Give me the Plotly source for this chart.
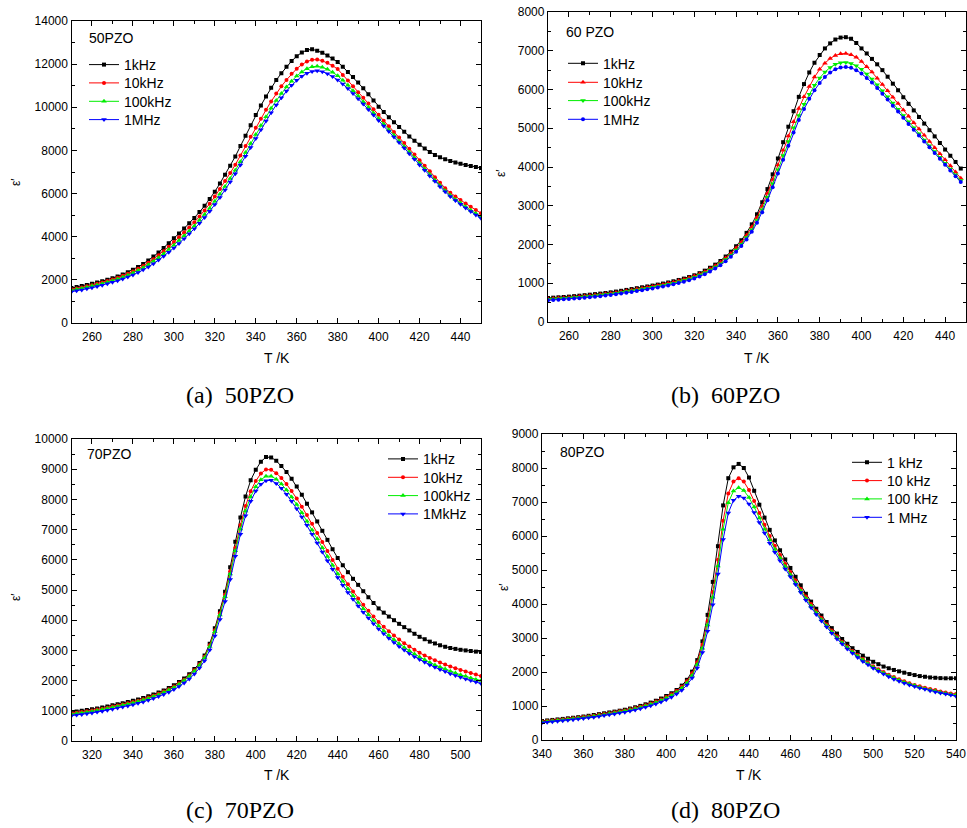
import plotly.graph_objects as go

W, H = 967, 828

# ---------------- data ----------------
T_A = [250,252.5,255,257.5,260,262.5,265,267.5,270,272.5,275,277.5,280,282.5,285,287.5,290,292.5,295,297.5,
       300,302.5,305,307.5,310,312.5,315,317.5,320,322.5,325,327.5,330,332.5,335,337.5,340,342.5,345,347.5,
       350,352.5,355,357.5,360,362.5,365,367.5,370,372.5,375,377.5,380,382.5,385,387.5,390,392.5,395,397.5,
       400,402.5,405,407.5,410,412.5,415,417.5,420,422.5,425,427.5,430,432.5,435,437.5,440,442.5,445,447.5,450]
A_1k = [1620,1665,1715,1765,1820,1880,1940,2005,2080,2160,2250,2355,2470,2600,2740,2900,3080,3270,3480,3700,
        3930,4150,4380,4620,4870,5140,5430,5750,6090,6470,6870,7290,7720,8200,8680,9170,9640,10080,10500,10900,
        11260,11580,11880,12140,12370,12540,12650,12690,12620,12530,12400,12260,12100,11880,11640,11400,11150,10880,10600,10310,
        10030,9780,9540,9310,9090,8870,8650,8450,8260,8090,7930,7790,7680,7590,7510,7440,7380,7330,7280,7230,7190]
A_10k = [1560,1600,1650,1700,1755,1815,1875,1945,2020,2100,2185,2285,2390,2510,2640,2795,2960,3140,3330,3540,
         3750,3970,4190,4430,4670,4940,5220,5530,5860,6210,6580,6950,7340,7770,8200,8630,9050,9470,9880,10270,
         10640,10970,11270,11550,11790,11980,12120,12200,12210,12160,12060,11930,11770,11500,11240,10970,10700,10440,10180,9910,
         9650,9380,9120,8860,8600,8340,8080,7810,7550,7290,7030,6760,6500,6250,6040,5860,5700,5540,5390,5240,5090]
A_100k = [1520,1560,1605,1655,1710,1765,1825,1890,1960,2035,2120,2215,2320,2435,2560,2705,2860,3030,3210,3410,
          3610,3820,4040,4270,4500,4760,5030,5320,5640,5980,6330,6700,7080,7480,7900,8320,8740,9150,9560,9950,
          10310,10640,10940,11210,11450,11640,11790,11880,11900,11860,11760,11620,11460,11250,11020,10770,10520,10260,10000,9740,
          9480,9220,8960,8700,8440,8180,7920,7660,7400,7140,6880,6620,6370,6130,5920,5730,5560,5390,5230,5080,4930]
A_1M = [1450,1490,1535,1585,1635,1690,1750,1815,1885,1960,2040,2130,2230,2340,2465,2600,2750,2915,3090,3280,
        3480,3690,3910,4140,4370,4620,4890,5180,5490,5820,6170,6540,6920,7320,7730,8140,8550,8960,9360,9750,
        10110,10440,10750,11020,11250,11440,11580,11660,11690,11650,11560,11430,11270,11080,10870,10640,10400,10150,9900,9640,
        9390,9130,8880,8620,8370,8110,7850,7590,7330,7080,6820,6570,6320,6080,5870,5680,5500,5330,5170,5010,4860]

T_B = [250,252.5,255,257.5,260,262.5,265,267.5,270,272.5,275,277.5,280,282.5,285,287.5,290,292.5,295,297.5,
       300,302.5,305,307.5,310,312.5,315,317.5,320,322.5,325,327.5,330,332.5,335,337.5,340,342.5,345,347.5,
       350,352.5,355,357.5,360,362.5,365,367.5,370,372.5,375,377.5,380,382.5,385,387.5,390,392.5,395,397.5,
       400,402.5,405,407.5,410,412.5,415,417.5,420,422.5,425,427.5,430,432.5,435,437.5,440,442.5,445,447.5]
B_1k = [620,628,637,646,655,667,679,692,705,719,733,749,765,785,805,828,850,872,895,917,
        940,965,992,1020,1050,1085,1120,1160,1205,1260,1325,1400,1480,1575,1690,1815,1955,2110,2300,2520,
        2780,3090,3430,3810,4220,4640,5040,5440,5810,6140,6440,6690,6890,7060,7190,7290,7340,7350,7310,7200,
        7060,6930,6790,6650,6500,6330,6150,5980,5800,5630,5460,5290,5120,4950,4790,4620,4450,4290,4130,3960]
B_10k = [600,608,617,626,635,646,658,671,684,698,712,728,744,763,783,805,828,850,873,895,
         918,943,970,998,1028,1062,1098,1140,1185,1238,1300,1372,1450,1540,1650,1770,1910,2060,2240,2450,
         2700,2990,3320,3680,4050,4430,4800,5170,5510,5810,6080,6320,6520,6680,6800,6880,6920,6930,6900,6830,
         6720,6590,6450,6290,6130,5970,5800,5640,5470,5310,5140,4980,4820,4660,4500,4340,4190,4030,3870,3710]
B_100k = [585,593,601,610,619,630,641,653,666,680,694,709,725,743,763,784,806,828,850,872,
          895,919,945,973,1003,1036,1072,1112,1158,1210,1270,1340,1418,1505,1610,1725,1860,2005,2180,2380,
          2620,2900,3220,3570,3930,4300,4660,5010,5330,5620,5880,6110,6300,6450,6570,6650,6690,6700,6670,6610,
          6520,6400,6270,6120,5970,5810,5650,5490,5330,5170,5010,4860,4700,4550,4400,4250,4100,3950,3800,3650]
B_1M = [560,568,576,585,594,604,615,627,640,653,667,682,698,716,735,756,777,799,821,843,
        866,890,916,944,973,1005,1040,1080,1125,1176,1235,1303,1380,1466,1568,1682,1815,1960,2130,2330,
        2560,2830,3140,3480,3830,4190,4550,4890,5210,5500,5760,5980,6170,6320,6440,6520,6570,6580,6560,6500,
        6410,6300,6180,6040,5890,5740,5580,5430,5270,5110,4960,4810,4660,4510,4360,4210,4060,3910,3760,3610]

T_C = [310,312.5,315,317.5,320,322.5,325,327.5,330,332.5,335,337.5,340,342.5,345,347.5,350,352.5,355,357.5,
       360,362.5,365,367.5,370,372.5,375,377.5,380,382.5,385,387.5,390,392.5,395,397.5,400,402.5,405,407.5,
       410,412.5,415,417.5,420,422.5,425,427.5,430,432.5,435,437.5,440,442.5,445,447.5,450,452.5,455,457.5,
       460,462.5,465,467.5,470,472.5,475,477.5,480,482.5,485,487.5,490,492.5,495,497.5,500,502.5,505,507.5,510]
C_1k = [960,980,1000,1025,1050,1080,1110,1145,1180,1215,1250,1290,1330,1375,1425,1480,1540,1605,1675,1755,
        1845,1950,2070,2210,2380,2580,2830,3220,3730,4300,4940,5750,6600,7400,8100,8630,8980,9250,9400,9390,
        9280,9110,8910,8680,8430,8150,7860,7570,7270,6960,6660,6350,6060,5820,5590,5370,5170,4960,4760,4570,
        4390,4250,4120,4000,3880,3770,3660,3550,3450,3370,3290,3230,3170,3120,3080,3050,3020,3000,2980,2960,2950]
C_10k = [920,940,960,985,1010,1040,1070,1105,1140,1175,1210,1250,1290,1335,1385,1440,1500,1565,1635,1715,
         1805,1910,2030,2170,2340,2540,2790,3170,3670,4230,4850,5620,6400,7150,7780,8270,8610,8860,8990,8980,
         8870,8710,8510,8280,8030,7760,7480,7190,6890,6590,6290,5990,5700,5440,5190,4950,4720,4510,4310,4120,
         3940,3780,3630,3490,3360,3240,3130,3020,2920,2830,2750,2670,2600,2530,2470,2410,2350,2300,2250,2200,2150]
C_100k = [890,910,930,955,980,1010,1040,1075,1110,1145,1180,1220,1260,1305,1355,1410,1470,1535,1605,1685,
          1775,1880,2000,2140,2310,2510,2760,3130,3620,4170,4780,5530,6300,7020,7620,8090,8420,8650,8770,8770,
          8670,8510,8310,8080,7830,7560,7280,6990,6700,6400,6110,5820,5540,5290,5040,4810,4590,4380,4180,3990,
          3810,3640,3490,3350,3220,3100,2990,2880,2780,2690,2600,2520,2450,2380,2310,2250,2190,2140,2090,2040,2000]
C_1M = [840,860,880,905,930,958,988,1020,1055,1090,1125,1163,1203,1247,1295,1348,1407,1470,1540,1618,
        1705,1805,1920,2055,2220,2415,2660,3010,3480,4020,4620,5350,6120,6850,7460,7940,8280,8500,8620,8630,
        8530,8370,8170,7940,7690,7420,7140,6850,6560,6260,5970,5690,5410,5160,4920,4690,4470,4260,4070,3880,
        3710,3550,3400,3260,3130,3010,2900,2790,2700,2610,2520,2440,2370,2300,2230,2170,2110,2050,2000,1950,1900]

T_D = [340,342.5,345,347.5,350,352.5,355,357.5,360,362.5,365,367.5,370,372.5,375,377.5,380,382.5,385,387.5,
       390,392.5,395,397.5,400,402.5,405,407.5,410,412.5,415,417.5,420,422.5,425,427.5,430,432.5,435,437.5,
       440,442.5,445,447.5,450,452.5,455,457.5,460,462.5,465,467.5,470,472.5,475,477.5,480,482.5,485,487.5,
       490,492.5,495,497.5,500,502.5,505,507.5,510,512.5,515,517.5,520,522.5,525,527.5,530,532.5,535,537.5,540]
D_1k = [560,575,590,605,620,637,654,671,690,712,735,760,785,810,835,862,890,925,962,1003,
        1050,1100,1155,1220,1295,1375,1470,1600,1770,2010,2350,2900,3680,4650,5700,6900,7700,8020,8120,8000,
        7720,7330,6920,6540,6180,5870,5580,5310,5060,4800,4550,4300,4070,3860,3660,3470,3290,3130,2970,2830,
        2700,2590,2480,2390,2300,2230,2160,2110,2060,2020,1980,1940,1910,1880,1860,1840,1830,1820,1815,1815,1815]
D_10k = [545,560,575,590,605,621,638,655,673,694,716,740,765,790,815,842,870,903,940,980,
         1025,1075,1130,1192,1265,1345,1440,1565,1730,1960,2290,2800,3500,4350,5300,6450,7250,7600,7700,7600,
         7350,7030,6680,6330,6000,5710,5440,5180,4940,4690,4450,4220,4000,3790,3590,3400,3220,3050,2890,2750,
         2620,2500,2380,2270,2170,2080,2000,1920,1850,1790,1730,1670,1620,1580,1540,1500,1470,1430,1400,1370,1350]
D_100k = [530,545,560,575,590,606,622,639,657,677,699,722,746,771,796,823,851,883,918,957,
          1000,1048,1102,1162,1232,1310,1402,1522,1680,1900,2220,2700,3380,4200,5120,6200,6980,7320,7420,7340,
          7130,6850,6530,6200,5890,5610,5350,5100,4860,4620,4390,4160,3940,3740,3540,3360,3180,3010,2860,2720,
          2590,2470,2350,2240,2140,2050,1970,1890,1820,1760,1700,1650,1600,1550,1510,1470,1440,1400,1370,1340,1320]
D_1M = [510,524,538,553,568,583,599,615,632,651,672,694,717,741,766,792,819,850,884,921,
        962,1008,1060,1118,1185,1260,1350,1465,1615,1820,2120,2570,3200,3980,4880,5900,6680,7050,7170,7120,
        6940,6690,6400,6090,5790,5520,5270,5030,4800,4570,4340,4110,3890,3690,3500,3320,3140,2970,2820,2680,
        2550,2430,2310,2210,2110,2020,1940,1860,1790,1730,1670,1620,1570,1530,1490,1450,1410,1380,1350,1320,1290]

COLORS = ["#000000", "#ff0000", "#00ee00", "#0000ff"]

PANELS = [
    dict(T=T_A, Y=[A_1k, A_10k, A_100k, A_1M], names=["1kHz", "10kHz", "100kHz", "1MHz"],
         symbols=["square", "circle", "triangle-up", "triangle-down"],
         xr=[250, 450], yr=[0, 14000], ydt=2000, ymdt=1000, xdt=20, xmdt=10,
         box=(71.5, 21, 481, 323), label="50PZO", label_pos=(87, 38),
         leg_x=124, leg_rows=(64, 82.3, 100.7, 119), cap="(a)\u00a0\u00a050PZO", cap_pos=(240, 395),
         xt_pos=(277, 358), yt_pos=(16, 182)),
    dict(T=T_B, Y=[B_1k, B_10k, B_100k, B_1M], names=["1kHz", "10kHz", "100kHz", "1MHz"],
         symbols=["square", "triangle-up", "triangle-down", "circle"],
         xr=[250, 450], yr=[0, 8000], ydt=1000, ymdt=500, xdt=20, xmdt=10,
         box=(548, 12, 966, 322), label="60 PZO", label_pos=(564, 32),
         leg_x=603, leg_rows=(62.7, 81.7, 100, 118.7), cap="(b)\u00a0\u00a060PZO", cap_pos=(725, 395),
         xt_pos=(757, 358), yt_pos=(501, 173)),
    dict(T=T_C, Y=[C_1k, C_10k, C_100k, C_1M], names=["1kHz", "10kHz", "100kHz", "1MkHz"],
         symbols=["square", "circle", "triangle-up", "triangle-down"],
         xr=[310, 510], yr=[0, 10000], ydt=1000, ymdt=500, xdt=20, xmdt=10,
         box=(71.5, 439, 481, 741), label="70PZO", label_pos=(85, 454),
         leg_x=423, leg_rows=(458.3, 476.7, 495, 513.3), cap="(c)\u00a0\u00a070PZO", cap_pos=(240, 810),
         xt_pos=(277, 775), yt_pos=(16, 597)),
    dict(T=T_D, Y=[D_1k, D_10k, D_100k, D_1M], names=["1 kHz", "10 kHz", "100 kHz", "1 MHz"],
         symbols=["square", "circle", "triangle-up", "triangle-down"],
         xr=[340, 540], yr=[0, 9000], ydt=1000, ymdt=500, xdt=20, xmdt=10,
         box=(542, 434, 956, 740), label="80PZO", label_pos=(558, 452),
         leg_x=887, leg_rows=(461.7, 480, 498.3, 516.7), cap="(d)\u00a0\u00a080PZO", cap_pos=(725, 810),
         xt_pos=(749, 775), yt_pos=(504, 587)),
]

SANS = "Liberation Sans, Arial, sans-serif"
SERIF = "Liberation Serif, Times New Roman, serif"


def px(x):
    return x / W


def py(y):
    return 1 - y / H


fig = go.Figure()
layout = dict(template="none", width=W, height=H, margin=dict(l=0, r=0, t=0, b=0, autoexpand=False),
              paper_bgcolor="white", plot_bgcolor="white", showlegend=True,
              font=dict(family=SANS, color="black"))
annotations = []
leg_index = 0

for i, p in enumerate(PANELS):
    n = "" if i == 0 else str(i + 1)
    for k in range(4):
        leg_index += 1
        legname = "legend" if leg_index == 1 else "legend" + str(leg_index)
        fig.add_trace(go.Scatter(
            x=p["T"], y=p["Y"][k], name=p["names"][k], mode="lines+markers",
            line=dict(color=COLORS[k], width=1),
            marker=dict(symbol=p["symbols"][k], size=4 if p["symbols"][k] in ("square", "circle") else 5,
                        color=COLORS[k], line=dict(width=0)),
            xaxis="x" + n, yaxis="y" + n, legend=legname))
        layout[legname] = dict(x=px(p["leg_x"] - 40), y=py(p["leg_rows"][k] - 15), xanchor="left", yanchor="top",
                               bgcolor="rgba(0,0,0,0)", borderwidth=0,
                               font=dict(family=SANS, size=14, color="black"))
    x0, y0, x1, y1 = p["box"]
    common = dict(ticks="inside", ticklen=5, tickwidth=1, tickcolor="black",
                  showline=True, linecolor="black", linewidth=1.3, mirror="ticks",
                  showgrid=False, zeroline=False, automargin=False,
                  tickformat="d", exponentformat="none",
                  tickfont=dict(family=SANS, size=12, color="black"))
    layout["xaxis" + n] = dict(common, domain=[px(x0), px(x1)], range=p["xr"], dtick=p["xdt"], tick0=0,
                               minor=dict(dtick=p["xmdt"], ticks="inside", ticklen=3, tickcolor="black"),
                               ticklabelstandoff=2, anchor="y" + n)
    layout["yaxis" + n] = dict(common, domain=[py(y1), py(y0)], range=p["yr"], dtick=p["ydt"], tick0=0,
                               minor=dict(dtick=p["ymdt"], ticks="inside", ticklen=3, tickcolor="black"),
                               anchor="x" + n)
    annotations.append(dict(text=p["label"], x=px(p["label_pos"][0]), y=py(p["label_pos"][1]),
                            xref="paper", yref="paper", xanchor="left", yanchor="middle", showarrow=False,
                            font=dict(family=SANS, size=14, color="black")))
    annotations.append(dict(text="T /K", x=px(p["xt_pos"][0]), y=py(p["xt_pos"][1]),
                            xref="paper", yref="paper", xanchor="center", yanchor="middle", showarrow=False,
                            font=dict(family=SANS, size=14, color="black")))
    annotations.append(dict(text="\u03b5\u2032", x=px(p["yt_pos"][0]), y=py(p["yt_pos"][1]), textangle=-90,
                            xref="paper", yref="paper", xanchor="center", yanchor="middle", showarrow=False,
                            font=dict(family=SANS, size=12, color="black")))
    annotations.append(dict(text=p["cap"], x=px(p["cap_pos"][0]), y=py(p["cap_pos"][1]),
                            xref="paper", yref="paper", xanchor="center", yanchor="middle", showarrow=False,
                            font=dict(family=SERIF, size=24, color="black")))

layout["annotations"] = annotations
fig.update_layout(**layout)
fig.write_html("out.html", config={"displayModeBar": False},
               post_script="document.body.style.margin='0';document.body.style.overflow='hidden';")
